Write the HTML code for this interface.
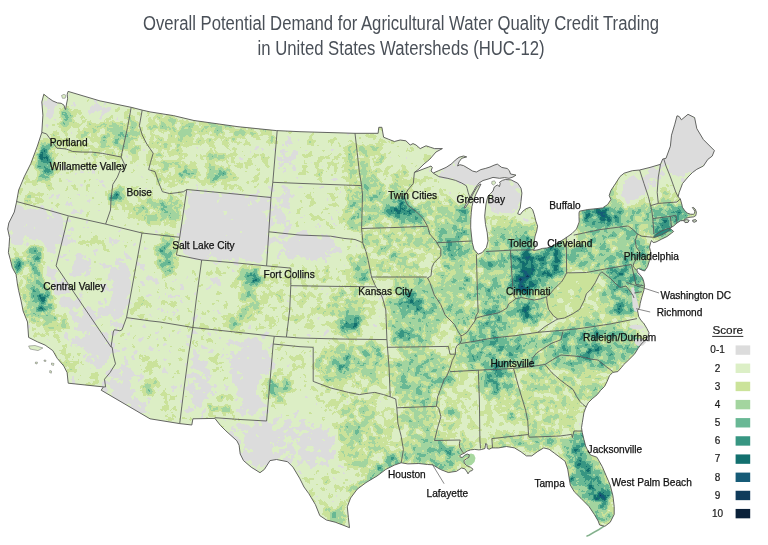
<!DOCTYPE html><html><head><meta charset="utf-8"><style>html,body{margin:0;padding:0;background:#fff;}body{width:768px;height:545px;overflow:hidden;position:relative;}svg{position:absolute;left:0;top:0;display:block;filter:blur(0.3px);}</style></head><body>
<svg width="768" height="545" viewBox="0 0 768 545">
<rect width="768" height="545" fill="#ffffff"/>
<g font-family="Liberation Sans, Arial, sans-serif" fill="#4a5058" font-size="19.5"><text x="143" y="29.7" textLength="516" lengthAdjust="spacingAndGlyphs">Overall Potential Demand for Agricultural Water Quality Credit Trading</text><text x="257.6" y="55.3" textLength="287" lengthAdjust="spacingAndGlyphs">in United States Watersheds (HUC-12)</text></g>
<defs><clipPath id="land"><path d="M43.8,94.2 L48.3,97.8 L52.9,101.0 L57.5,102.9 L61.2,103.3 L64.0,105.2 L65.0,108.5 L65.6,109.5 L66.5,104.0 L67.6,98.8 L67.2,94.2 L68.1,91.4 L100.0,100.9 L131.2,107.3 L142.2,110.1 L150.0,111.9 L173.4,115.6 L194.0,120.5 L238.0,126.7 L276.5,130.6 L300.0,131.7 L355.0,133.3 L378.1,133.3 L378.8,127.3 L381.9,127.3 L383.6,137.2 L388.7,139.3 L394.4,141.5 L400.2,140.0 L405.9,140.8 L410.2,145.0 L413.0,143.6 L416.0,145.0 L420.2,148.6 L426.0,145.8 L430.2,147.2 L434.5,148.6 L442.4,148.6 L436.0,152.0 L429.8,159.2 L424.0,164.0 L418.8,169.1 L414.4,172.4 L417.0,171.5 L422.0,169.5 L428.7,167.0 L431.0,166.0 L432.3,167.5 L431.0,171.0 L433.3,173.0 L438.8,170.6 L446.1,167.4 L451.6,163.8 L455.3,160.1 L459.0,157.3 L463.5,156.0 L466.7,156.9 L461.7,158.3 L459.0,161.9 L457.6,166.0 L459.9,164.7 L463.5,165.6 L468.1,168.3 L472.7,171.1 L476.4,172.0 L480.8,169.6 L485.2,168.5 L490.0,167.0 L494.0,165.2 L497.3,164.1 L501.7,167.4 L507.2,168.5 L509.4,170.7 L510.5,174.0 L516.0,175.1 L513.0,177.0 L509.0,178.3 L504.5,177.6 L499.6,178.3 L493.0,177.4 L488.0,179.1 L483.0,180.5 L479.0,183.0 L476.0,187.0 L472.5,193.0 L469.5,198.5 L466.5,203.5 L464.0,207.5 L465.0,208.0 L467.5,204.5 L470.5,199.0 L473.5,193.0 L476.5,188.0 L479.5,184.5 L481.0,184.0 L478.5,189.0 L476.0,194.0 L473.5,200.0 L472.0,206.4 L471.3,212.2 L470.8,219.5 L470.7,227.8 L471.5,236.0 L472.3,242.7 L474.0,249.3 L478.1,254.2 L482.2,252.6 L486.4,247.6 L488.0,241.0 L487.2,232.7 L485.5,224.5 L484.7,216.2 L485.3,210.0 L486.0,204.0 L487.9,196.2 L490.5,193.6 L493.0,191.0 L494.3,187.0 L497.3,185.0 L499.5,186.5 L500.2,183.5 L499.5,182.3 L502.5,180.3 L505.4,179.5 L511.1,179.9 L517.7,183.2 L521.0,188.2 L521.9,193.1 L521.0,201.4 L520.2,208.0 L518.6,211.3 L517.7,213.8 L520.2,214.6 L522.7,211.3 L526.0,208.8 L530.1,207.2 L532.6,209.6 L534.3,214.6 L535.9,221.2 L537.6,226.1 L536.7,231.1 L535.1,236.0 L534.3,241.0 L535.2,246.0 L534.7,247.5 L533.6,250.5 L538.0,249.8 L542.4,248.4 L547.0,248.0 L551.5,246.5 L555.0,244.5 L560.0,241.5 L566.0,237.8 L572.0,233.5 L576.5,229.0 L579.2,222.0 L579.0,216.5 L579.0,213.0 L579.5,211.2 L587.8,209.5 L596.0,208.7 L602.6,207.9 L607.6,204.6 L610.9,199.6 L609.2,195.5 L610.9,190.5 L615.8,183.1 L620.0,176.5 L624.1,173.2 L632.3,170.7 L639.6,170.0 L650.0,167.4 L660.5,164.3 L662.7,159.0 L666.0,158.3 L670.4,146.2 L671.5,135.2 L674.8,124.2 L677.0,115.8 L679.2,116.5 L681.4,119.8 L688.0,114.3 L694.6,117.6 L696.8,128.6 L703.4,139.6 L707.8,144.0 L714.4,150.6 L712.2,156.1 L707.8,159.4 L703.4,166.0 L696.8,169.3 L692.4,172.6 L688.0,177.0 L682.5,183.6 L679.2,192.4 L678.1,196.8 L680.3,198.8 L682.0,205.0 L682.4,207.2 L684.4,210.2 L687.4,213.2 L690.5,214.2 L693.3,214.3 L694.6,213.2 L694.8,211.2 L693.5,209.0 L692.3,207.6 L693.4,207.4 L695.3,209.2 L696.4,212.3 L695.8,215.6 L693.5,216.9 L690.0,217.2 L686.5,218.2 L683.5,220.5 L680.4,220.8 L677.0,223.0 L673.6,226.0 L669.8,228.2 L671.5,229.4 L673.6,231.5 L671.4,233.2 L667.0,236.5 L661.5,239.2 L656.0,242.0 L653.2,242.6 L651.5,240.5 L650.6,242.8 L649.5,247.2 L650.6,251.6 L649.5,260.4 L647.5,266.7 L644.6,271.0 L641.7,270.0 L638.5,268.5 L636.8,269.5 L637.5,272.5 L640.2,275.0 L642.5,278.0 L643.6,281.0 L644.6,285.8 L643.9,290.2 L641.7,297.5 L640.2,303.4 L639.5,307.8 L637.5,310.5 L638.7,316.6 L641.0,320.5 L643.6,323.0 L646.9,328.5 L649.1,332.9 L648.0,336.2 L644.7,340.6 L641.4,343.9 L638.1,348.3 L634.8,353.8 L628.2,360.4 L623.8,364.5 L621.5,367.5 L617.8,371.6 L612.8,372.4 L609.5,375.7 L607.1,381.5 L604.6,386.4 L600.5,390.5 L597.2,394.7 L592.2,398.8 L588.1,402.9 L585.6,407.9 L583.9,412.8 L583.1,417.8 L582.3,422.7 L581.5,427.7 L582.3,432.7 L583.9,439.3 L585.6,445.9 L588.0,451.0 L590.5,455.0 L596.9,457.2 L602.2,466.5 L606.2,475.8 L610.2,485.1 L612.9,495.7 L614.2,506.4 L614.2,514.4 L610.2,522.3 L604.9,526.3 L599.6,525.0 L598.2,521.0 L594.3,514.4 L588.9,506.4 L581.0,498.4 L574.3,491.8 L570.3,485.1 L569.0,477.1 L567.7,469.1 L565.0,461.2 L559.7,457.2 L554.4,453.2 L549.0,449.2 L543.7,447.9 L537.1,451.9 L531.8,455.9 L526.4,455.9 L521.1,451.9 L514.5,447.9 L506.5,446.5 L498.5,447.9 L491.9,447.9 L489.2,449.2 L487.3,448.5 L486.8,444.0 L485.6,443.5 L485.0,448.5 L481.2,449.6 L478.8,449.9 L474.7,449.4 L470.5,449.9 L467.2,451.1 L463.9,453.4 L460.6,454.8 L459.8,456.0 L460.6,457.3 L462.3,457.3 L464.8,455.2 L467.2,454.0 L469.3,454.8 L468.9,457.3 L466.4,458.9 L463.9,460.6 L464.3,463.0 L466.4,465.5 L470.5,467.2 L473.0,469.2 L472.2,470.5 L469.7,471.3 L468.0,473.8 L467.2,472.1 L464.8,468.8 L461.5,468.0 L456.5,471.3 L448.3,472.5 L440.5,469.5 L432.5,464.8 L427.6,464.5 L418.8,463.5 L407.8,463.9 L401.2,462.8 L394.6,465.0 L385.8,469.4 L377.0,476.0 L366.0,482.6 L357.2,489.2 L350.6,498.0 L347.3,506.8 L348.4,517.8 L349.5,527.7 L344.0,525.5 L335.2,522.2 L326.4,520.0 L319.8,515.6 L315.4,504.6 L308.8,493.6 L304.0,487.0 L299.6,478.2 L293.0,467.2 L287.5,461.7 L276.5,459.5 L270.0,460.6 L264.4,469.4 L260.0,472.7 L251.2,467.2 L243.5,460.6 L240.2,454.0 L239.1,445.2 L236.9,440.8 L225.9,430.9 L220.4,425.4 L214.9,418.4 L192.9,418.8 L191.8,425.0 L179.7,423.6 L150.0,418.8 L101.2,390.2 L103.4,386.9 L68.2,383.2 L67.1,372.6 L63.8,366.0 L57.2,358.3 L52.8,350.6 L45.1,345.1 L37.4,341.8 L28.6,337.4 L27.5,322.0 L23.1,311.0 L20.9,300.0 L18.6,290.4 L17.4,284.0 L16.7,278.8 L16.0,274.3 L14.1,271.0 L12.2,267.3 L10.3,259.6 L8.4,252.5 L9.0,246.7 L9.6,237.7 L7.7,229.0 L8.8,223.0 L14.3,212.0 L16.5,202.1 L18.7,190.0 L24.2,176.8 L30.8,163.6 L37.4,146.0 L41.8,132.4 L42.9,115.2 L41.8,102.0Z"/></clipPath></defs>
<g clip-path="url(#land)"><rect x="0" y="80" width="768" height="465" fill="#dcefc6"/>
<filter id="cf" x="0" y="0" width="768" height="545" filterUnits="userSpaceOnUse" color-interpolation-filters="sRGB"><feGaussianBlur in="SourceGraphic" stdDeviation="4" result="f"/><feTurbulence type="fractalNoise" baseFrequency="0.13" numOctaves="3" seed="7" result="t"/><feColorMatrix in="t" type="matrix" values="1 0 0 0 0  1 0 0 0 0  1 0 0 0 0  0 0 0 0 1" result="n"/><feComposite in="f" in2="n" operator="arithmetic" k1="0.85" k2="0.575" k3="0.18" k4="-0.09" result="s"/><feComponentTransfer in="s"><feFuncR type="discrete" tableValues="0.863 0.863 0.863 0.863 0.863 0.863 0.863 0.863 0.863 0.863 0.863 0.863 0.863 0.863 0.863 0.863 0.863 0.863 0.863 0.863 0.863 0.863 0.863 0.796 0.796 0.796 0.796 0.796 0.796 0.796 0.796 0.639 0.639 0.639 0.639 0.639 0.639 0.639 0.639 0.639 0.639 0.412 0.412 0.412 0.412 0.412 0.412 0.412 0.412 0.412 0.412 0.216 0.216 0.216 0.216 0.216 0.216 0.216 0.216 0.216 0.216 0.075 0.075 0.075 0.075 0.075 0.075 0.075 0.075 0.075 0.075 0.086 0.086 0.086 0.086 0.086 0.086 0.086 0.086 0.086 0.086 0.059 0.059 0.059 0.059 0.059 0.059 0.059 0.059 0.059 0.059 0.039 0.039 0.039 0.039 0.039 0.039 0.039 0.039 0.039"/><feFuncG type="discrete" tableValues="0.863 0.863 0.863 0.863 0.863 0.863 0.863 0.863 0.863 0.863 0.937 0.937 0.937 0.937 0.937 0.937 0.937 0.937 0.937 0.937 0.937 0.937 0.937 0.890 0.890 0.890 0.890 0.890 0.890 0.890 0.890 0.835 0.835 0.835 0.835 0.835 0.835 0.835 0.835 0.835 0.835 0.722 0.722 0.722 0.722 0.722 0.722 0.722 0.722 0.722 0.722 0.588 0.588 0.588 0.588 0.588 0.588 0.588 0.588 0.588 0.588 0.439 0.439 0.439 0.439 0.439 0.439 0.439 0.439 0.439 0.439 0.357 0.357 0.357 0.357 0.357 0.357 0.357 0.357 0.357 0.357 0.231 0.231 0.231 0.231 0.231 0.231 0.231 0.231 0.231 0.231 0.129 0.129 0.129 0.129 0.129 0.129 0.129 0.129 0.129"/><feFuncB type="discrete" tableValues="0.863 0.863 0.863 0.863 0.863 0.863 0.863 0.863 0.863 0.863 0.776 0.776 0.776 0.776 0.776 0.776 0.776 0.776 0.776 0.776 0.776 0.776 0.776 0.604 0.604 0.604 0.604 0.604 0.604 0.604 0.604 0.624 0.624 0.624 0.624 0.624 0.624 0.624 0.624 0.624 0.624 0.584 0.584 0.584 0.584 0.584 0.584 0.584 0.584 0.584 0.584 0.510 0.510 0.510 0.510 0.510 0.510 0.510 0.510 0.510 0.510 0.435 0.435 0.435 0.435 0.435 0.435 0.435 0.435 0.435 0.435 0.467 0.467 0.467 0.467 0.467 0.467 0.467 0.467 0.467 0.467 0.357 0.357 0.357 0.357 0.357 0.357 0.357 0.357 0.357 0.357 0.224 0.224 0.224 0.224 0.224 0.224 0.224 0.224 0.224"/><feFuncA type="linear" slope="0" intercept="1"/></feComponentTransfer></filter>
<g filter="url(#cf)">
<rect x="0" y="0" width="768" height="545" fill="#2b2b2b"/>
<ellipse cx="88.5" cy="128" rx="10.5" ry="9" fill="#4a4a4a"/>
<ellipse cx="84.5" cy="143.5" rx="19.5" ry="6.5" fill="#474747"/>
<ellipse cx="114.5" cy="136" rx="13.5" ry="17" fill="#575757"/>
<ellipse cx="121" cy="140.5" rx="4" ry="6.5" fill="#707070"/>
<ellipse cx="55" cy="127.5" rx="10" ry="6.5" fill="#383838"/>
<ellipse cx="53" cy="110.5" rx="8" ry="11.5" fill="#080808"/>
<ellipse cx="99" cy="108" rx="11" ry="6" fill="#0a0a0a"/>
<ellipse cx="74" cy="104" rx="4" ry="4" fill="#0a0a0a"/>
<ellipse cx="66" cy="117" rx="9" ry="10" fill="#666666"/>
<ellipse cx="65" cy="111" rx="4" ry="4" fill="#808080"/>
<ellipse cx="91" cy="152.5" rx="31" ry="5.5" fill="#3d3d3d"/>
<ellipse cx="29" cy="192.5" rx="8" ry="14.5" fill="#383838"/>
<ellipse cx="33.5" cy="199.5" rx="5.5" ry="5.5" fill="#5c5c5c"/>
<ellipse cx="54.5" cy="142.5" rx="5.5" ry="5.5" fill="#666666"/>
<ellipse cx="45" cy="162" rx="7" ry="20" fill="#8f8f8f"/>
<ellipse cx="43.5" cy="164" rx="4.5" ry="13" fill="#a8a8a8"/>
<ellipse cx="133" cy="135.5" rx="8" ry="27.5" fill="#4c4c4c"/>
<ellipse cx="162.5" cy="210" rx="37.5" ry="13" fill="#525252"/>
<ellipse cx="169" cy="209.5" rx="13" ry="10.5" fill="#5e5e5e"/>
<ellipse cx="116.5" cy="197" rx="5.5" ry="8.5" fill="#adadad"/>
<ellipse cx="173" cy="148.5" rx="27" ry="40.5" fill="#424242"/>
<ellipse cx="159" cy="124" rx="4" ry="4" fill="#737373"/>
<ellipse cx="187" cy="129" rx="4" ry="4" fill="#666666"/>
<ellipse cx="187" cy="173" rx="5" ry="4" fill="#737373"/>
<ellipse cx="156" cy="147" rx="4" ry="4" fill="#595959"/>
<ellipse cx="228" cy="127" rx="48" ry="12" fill="#474747"/>
<ellipse cx="228" cy="165" rx="48" ry="26" fill="#333333"/>
<ellipse cx="217.5" cy="155.5" rx="14.5" ry="6.5" fill="#474747"/>
<ellipse cx="219" cy="175" rx="13" ry="8" fill="#666666"/>
<ellipse cx="214" cy="175" rx="5" ry="4" fill="#808080"/>
<ellipse cx="188" cy="173.5" rx="8" ry="6.5" fill="#666666"/>
<ellipse cx="185" cy="172" rx="3" ry="3" fill="#8c8c8c"/>
<ellipse cx="185" cy="128" rx="4" ry="4" fill="#737373"/>
<ellipse cx="214" cy="128" rx="4" ry="4" fill="#737373"/>
<ellipse cx="271" cy="139" rx="3" ry="3" fill="#808080"/>
<polygon points="186.8,189.5 271,197.5 266.6,265.9 176.4,254.9 179.7,237.3" fill="#0b0b0b"/>
<ellipse cx="286.5" cy="159.5" rx="10.5" ry="20.5" fill="#171717"/>
<ellipse cx="322" cy="159.5" rx="25" ry="23.5" fill="#333333"/>
<ellipse cx="354.5" cy="162.5" rx="9.5" ry="23.5" fill="#4f4f4f"/>
<ellipse cx="282" cy="209.5" rx="10" ry="23.5" fill="#131313"/>
<ellipse cx="319.5" cy="209.5" rx="27.5" ry="23.5" fill="#303030"/>
<ellipse cx="354.5" cy="210.5" rx="9.5" ry="24.5" fill="#545454"/>
<ellipse cx="357" cy="222" rx="4" ry="5" fill="#6e6e6e"/>
<ellipse cx="305" cy="239" rx="37" ry="7" fill="#121212"/>
<ellipse cx="309" cy="250" rx="27" ry="10" fill="#080808"/>
<ellipse cx="310.5" cy="274.5" rx="41.5" ry="10.5" fill="#383838"/>
<ellipse cx="361" cy="270.5" rx="11" ry="14.5" fill="#666666"/>
<polygon points="5,203 40,209 68,217 66,245 58,262 42,250 25,248 8,240" fill="#080808"/>
<ellipse cx="26" cy="238" rx="5" ry="8" fill="#1a1a1a"/>
<ellipse cx="35" cy="256.5" rx="7" ry="13.5" fill="#858585"/>
<ellipse cx="34" cy="255.5" rx="3" ry="6.5" fill="#999999"/>
<ellipse cx="17" cy="265" rx="5" ry="11" fill="#999999"/>
<ellipse cx="41.5" cy="295.5" rx="15.5" ry="28.5" fill="#707070"/>
<ellipse cx="44" cy="298" rx="8" ry="16" fill="#858585"/>
<ellipse cx="27.5" cy="299.5" rx="6.5" ry="19.5" fill="#4c4c4c"/>
<ellipse cx="70" cy="305" rx="11" ry="48" fill="#121212" transform="rotate(-35 70 305)"/>
<ellipse cx="60" cy="254" rx="8" ry="13" fill="#1a1a1a"/>
<ellipse cx="87" cy="344" rx="26" ry="34" fill="#121212"/>
<ellipse cx="57" cy="324.5" rx="17" ry="14.5" fill="#3d3d3d"/>
<ellipse cx="48" cy="320.5" rx="8" ry="10.5" fill="#545454"/>
<ellipse cx="76" cy="362" rx="12" ry="12" fill="#383838"/>
<ellipse cx="65" cy="358" rx="9" ry="14" fill="#424242"/>
<ellipse cx="91.5" cy="378.5" rx="4.5" ry="6.5" fill="#666666"/>
<ellipse cx="71.5" cy="241" rx="14.5" ry="26" fill="#242424"/>
<ellipse cx="110.5" cy="265.5" rx="24.5" ry="35.5" fill="#292929"/>
<ellipse cx="79.5" cy="265.5" rx="9.5" ry="11.5" fill="#0a0a0a"/>
<ellipse cx="119.5" cy="288.5" rx="11.5" ry="29.5" fill="#0a0a0a"/>
<ellipse cx="102.5" cy="331" rx="17.5" ry="26" fill="#0d0d0d"/>
<ellipse cx="65" cy="232" rx="7" ry="10" fill="#0f0f0f"/>
<ellipse cx="92.5" cy="242.5" rx="11.5" ry="6.5" fill="#404040"/>
<ellipse cx="104" cy="324.5" rx="5" ry="7.5" fill="#474747"/>
<ellipse cx="138" cy="305" rx="8" ry="12" fill="#474747"/>
<ellipse cx="150.5" cy="272.5" rx="7.5" ry="27.5" fill="#212121"/>
<ellipse cx="166.5" cy="255.5" rx="10.5" ry="19.5" fill="#666666"/>
<ellipse cx="166.5" cy="254" rx="5.5" ry="13" fill="#7a7a7a"/>
<ellipse cx="217" cy="279.5" rx="21" ry="18.5" fill="#333333"/>
<ellipse cx="214" cy="282" rx="10" ry="9" fill="#1a1a1a"/>
<ellipse cx="274" cy="300" rx="16" ry="34" fill="#383838"/>
<ellipse cx="235" cy="325" rx="39" ry="9" fill="#333333"/>
<ellipse cx="249" cy="304" rx="9" ry="14" fill="#595959"/>
<ellipse cx="235" cy="321" rx="8" ry="8" fill="#616161"/>
<ellipse cx="250.5" cy="278" rx="10.5" ry="12" fill="#757575"/>
<ellipse cx="251.5" cy="277" rx="6.5" ry="8" fill="#8c8c8c"/>
<ellipse cx="308" cy="310.5" rx="18" ry="23.5" fill="#383838"/>
<ellipse cx="348" cy="310.5" rx="22" ry="23.5" fill="#4c4c4c"/>
<ellipse cx="349.5" cy="323.5" rx="10.5" ry="10.5" fill="#808080"/>
<ellipse cx="352" cy="326" rx="5" ry="5" fill="#999999"/>
<ellipse cx="295" cy="357" rx="21" ry="13" fill="#333333"/>
<ellipse cx="350.5" cy="367.5" rx="36.5" ry="27.5" fill="#4c4c4c"/>
<ellipse cx="342" cy="365" rx="8" ry="9" fill="#858585"/>
<ellipse cx="373.5" cy="352" rx="7.5" ry="9" fill="#737373"/>
<ellipse cx="230" cy="354.5" rx="39" ry="15.5" fill="#1a1a1a"/>
<ellipse cx="219" cy="363" rx="4" ry="4" fill="#595959"/>
<ellipse cx="128.5" cy="345" rx="15.5" ry="17" fill="#262626"/>
<ellipse cx="123" cy="335" rx="8" ry="4" fill="#424242"/>
<ellipse cx="128.5" cy="390.5" rx="23.5" ry="28.5" fill="#121212"/>
<ellipse cx="145.5" cy="365.5" rx="11.5" ry="6.5" fill="#474747"/>
<ellipse cx="148" cy="388" rx="9" ry="8" fill="#666666"/>
<ellipse cx="171.5" cy="407.5" rx="9.5" ry="9.5" fill="#383838"/>
<ellipse cx="167.6" cy="406" rx="4" ry="4" fill="#595959"/>
<ellipse cx="201.5" cy="385.5" rx="15.5" ry="28.5" fill="#121212"/>
<ellipse cx="217" cy="364.5" rx="5" ry="10.5" fill="#595959"/>
<ellipse cx="226.5" cy="403.5" rx="6.5" ry="10.5" fill="#545454"/>
<ellipse cx="212" cy="409" rx="5" ry="8" fill="#616161"/>
<ellipse cx="209" cy="342.5" rx="13" ry="11.5" fill="#2e2e2e"/>
<ellipse cx="252.5" cy="376.5" rx="19.5" ry="41.5" fill="#0f0f0f"/>
<ellipse cx="258.5" cy="375" rx="13.5" ry="35" fill="#0a0a0a"/>
<ellipse cx="293" cy="364" rx="21" ry="18" fill="#333333"/>
<ellipse cx="276" cy="388.5" rx="17" ry="11.5" fill="#616161"/>
<ellipse cx="278.5" cy="444" rx="58.5" ry="26" fill="#171717"/>
<ellipse cx="259" cy="448.5" rx="13" ry="19.5" fill="#0a0a0a"/>
<ellipse cx="321.5" cy="444.5" rx="15.5" ry="15.5" fill="#0d0d0d"/>
<ellipse cx="350.5" cy="399" rx="36.5" ry="17" fill="#383838"/>
<ellipse cx="359" cy="435" rx="22" ry="35" fill="#4c4c4c"/>
<ellipse cx="351.5" cy="434" rx="6.5" ry="5" fill="#666666"/>
<ellipse cx="391.5" cy="439" rx="10.5" ry="31" fill="#424242"/>
<ellipse cx="397.5" cy="443" rx="5.5" ry="11" fill="#333333"/>
<ellipse cx="358" cy="487" rx="9" ry="5" fill="#666666" transform="rotate(-35 358 487)"/>
<ellipse cx="372" cy="476" rx="8" ry="5" fill="#6b6b6b" transform="rotate(-30 372 476)"/>
<ellipse cx="380" cy="470" rx="7" ry="6" fill="#808080"/>
<ellipse cx="393.5" cy="460" rx="4.5" ry="5" fill="#b8b8b8"/>
<ellipse cx="325" cy="499" rx="25" ry="29" fill="#333333"/>
<ellipse cx="335.5" cy="515.5" rx="10.5" ry="8.5" fill="#5c5c5c"/>
<ellipse cx="342" cy="518" rx="3" ry="2" fill="#b8b8b8"/>
<ellipse cx="373" cy="154" rx="13" ry="18" fill="#454545"/>
<ellipse cx="412" cy="154" rx="26" ry="18" fill="#2e2e2e"/>
<ellipse cx="372" cy="200.5" rx="14" ry="28.5" fill="#575757"/>
<ellipse cx="399" cy="185" rx="13" ry="13" fill="#4c4c4c"/>
<ellipse cx="399" cy="209" rx="13" ry="13" fill="#858585"/>
<ellipse cx="400.5" cy="209.5" rx="6.5" ry="6.5" fill="#9e9e9e"/>
<ellipse cx="417.5" cy="217.5" rx="10.5" ry="9.5" fill="#808080"/>
<ellipse cx="440.5" cy="182.5" rx="28.5" ry="15.5" fill="#333333"/>
<ellipse cx="440.5" cy="211" rx="18.5" ry="13" fill="#525252"/>
<ellipse cx="464" cy="221.5" rx="5" ry="20.5" fill="#808080"/>
<ellipse cx="464" cy="211" rx="3" ry="5" fill="#9e9e9e"/>
<ellipse cx="450" cy="233" rx="22" ry="9" fill="#6b6b6b"/>
<ellipse cx="477.5" cy="172.5" rx="39.5" ry="13.5" fill="#050505"/>
<ellipse cx="504.5" cy="197" rx="17.5" ry="17" fill="#080808"/>
<ellipse cx="503.5" cy="219" rx="18.5" ry="5" fill="#404040"/>
<ellipse cx="511" cy="237" rx="26" ry="13" fill="#5e5e5e"/>
<ellipse cx="526.5" cy="241" rx="10.5" ry="9" fill="#757575"/>
<ellipse cx="398" cy="243.5" rx="38" ry="16.5" fill="#4a4a4a"/>
<ellipse cx="395" cy="268.5" rx="35" ry="8.5" fill="#4c4c4c"/>
<ellipse cx="394" cy="256" rx="5" ry="5" fill="#666666"/>
<ellipse cx="416" cy="312" rx="30" ry="35" fill="#5c5c5c"/>
<ellipse cx="412" cy="302.5" rx="13" ry="10.5" fill="#808080"/>
<ellipse cx="401.5" cy="338" rx="10.5" ry="9" fill="#808080"/>
<ellipse cx="455.5" cy="250" rx="19.5" ry="8" fill="#787878"/>
<ellipse cx="455" cy="286" rx="20" ry="30" fill="#575757"/>
<ellipse cx="464" cy="282" rx="4" ry="8" fill="#6b6b6b"/>
<ellipse cx="463" cy="321" rx="12" ry="13" fill="#5e5e5e"/>
<ellipse cx="494" cy="260" rx="20" ry="9" fill="#707070"/>
<ellipse cx="494" cy="292.5" rx="20" ry="23.5" fill="#616161"/>
<ellipse cx="549.5" cy="282" rx="12.5" ry="16" fill="#737373"/>
<ellipse cx="549.5" cy="256" rx="12.5" ry="11" fill="#999999"/>
<ellipse cx="525" cy="273" rx="13" ry="25" fill="#a3a3a3"/>
<ellipse cx="524" cy="282" rx="8" ry="13" fill="#b2b2b2"/>
<ellipse cx="494" cy="321" rx="20" ry="13" fill="#6e6e6e"/>
<ellipse cx="529.5" cy="312.5" rx="16.5" ry="12.5" fill="#808080"/>
<ellipse cx="522.5" cy="311.5" rx="6.5" ry="6.5" fill="#949494"/>
<ellipse cx="500" cy="342" rx="48" ry="8" fill="#707070"/>
<ellipse cx="491.5" cy="340.5" rx="14.5" ry="6.5" fill="#7a7a7a"/>
<ellipse cx="470" cy="360" rx="15" ry="10" fill="#707070"/>
<ellipse cx="498.5" cy="359" rx="46.5" ry="9" fill="#696969"/>
<ellipse cx="420.5" cy="378" rx="31.5" ry="30" fill="#5c5c5c"/>
<ellipse cx="418" cy="418.5" rx="18" ry="9.5" fill="#595959"/>
<ellipse cx="436.5" cy="451.5" rx="36.5" ry="23.5" fill="#595959"/>
<ellipse cx="427" cy="455.5" rx="3" ry="3.5" fill="#999999"/>
<ellipse cx="449" cy="453.5" rx="6" ry="4.5" fill="#858585"/>
<ellipse cx="457" cy="408" rx="21" ry="38" fill="#383838"/>
<ellipse cx="452" cy="415" rx="8" ry="8" fill="#616161"/>
<ellipse cx="449.5" cy="380.5" rx="10.5" ry="10.5" fill="#595959"/>
<ellipse cx="496.5" cy="382" rx="18.5" ry="17" fill="#6b6b6b"/>
<ellipse cx="496" cy="374.5" rx="8" ry="6.5" fill="#999999"/>
<ellipse cx="501.5" cy="418.5" rx="23.5" ry="19.5" fill="#383838"/>
<ellipse cx="512" cy="412" rx="8" ry="8" fill="#595959"/>
<ellipse cx="548.5" cy="399" rx="33.5" ry="39" fill="#474747"/>
<ellipse cx="535.5" cy="373" rx="10.5" ry="13" fill="#545454"/>
<ellipse cx="578.5" cy="382.5" rx="33.5" ry="22.5" fill="#474747"/>
<ellipse cx="600" cy="394" rx="10" ry="9" fill="#595959"/>
<ellipse cx="525" cy="443" rx="47" ry="7" fill="#575757"/>
<ellipse cx="536.5" cy="442" rx="6.5" ry="4" fill="#6b6b6b"/>
<ellipse cx="588" cy="478" rx="14" ry="38" fill="#808080" transform="rotate(-28 588 478)"/>
<ellipse cx="581.5" cy="442" rx="8.5" ry="9" fill="#999999"/>
<ellipse cx="569.5" cy="482.5" rx="3.5" ry="5.5" fill="#999999"/>
<ellipse cx="602" cy="494" rx="10" ry="12" fill="#999999"/>
<ellipse cx="596.5" cy="498" rx="4.5" ry="6" fill="#adadad"/>
<ellipse cx="602.5" cy="515" rx="12.5" ry="9" fill="#616161"/>
<ellipse cx="584.5" cy="500" rx="7.5" ry="8" fill="#595959"/>
<ellipse cx="592" cy="345.5" rx="52" ry="24.5" fill="#666666"/>
<ellipse cx="592" cy="349.5" rx="13" ry="10.5" fill="#808080"/>
<ellipse cx="583" cy="314.5" rx="30" ry="6.5" fill="#4c4c4c"/>
<ellipse cx="572.5" cy="297.5" rx="27.5" ry="23.5" fill="#404040"/>
<ellipse cx="596" cy="297.5" rx="17" ry="15.5" fill="#424242"/>
<ellipse cx="624.5" cy="309" rx="14.5" ry="9" fill="#7a7a7a"/>
<ellipse cx="620.5" cy="308" rx="7.5" ry="5" fill="#8c8c8c"/>
<ellipse cx="553" cy="260" rx="13" ry="22" fill="#8c8c8c"/>
<ellipse cx="592" cy="255" rx="26" ry="17" fill="#616161"/>
<ellipse cx="631" cy="251" rx="13" ry="13" fill="#6b6b6b"/>
<ellipse cx="619" cy="274" rx="14" ry="12" fill="#858585"/>
<ellipse cx="638" cy="285" rx="7" ry="15" fill="#7a7a7a"/>
<ellipse cx="618" cy="291.5" rx="13" ry="14.5" fill="#6b6b6b"/>
<ellipse cx="645.5" cy="258.5" rx="6.5" ry="18.5" fill="#6b6b6b"/>
<ellipse cx="617.5" cy="220" rx="38.5" ry="20" fill="#616161"/>
<ellipse cx="598.5" cy="216" rx="19.5" ry="9" fill="#949494"/>
<ellipse cx="605" cy="217" rx="8" ry="5" fill="#a6a6a6"/>
<ellipse cx="636.5" cy="214.5" rx="18.5" ry="10.5" fill="#5c5c5c"/>
<ellipse cx="611.5" cy="232.5" rx="32.5" ry="7.5" fill="#666666"/>
<ellipse cx="626" cy="194" rx="24" ry="16" fill="#575757"/>
<ellipse cx="631" cy="191" rx="13" ry="13" fill="#050505"/>
<ellipse cx="649" cy="181" rx="8" ry="14" fill="#0f0f0f"/>
<ellipse cx="649" cy="201" rx="8" ry="6" fill="#404040"/>
<ellipse cx="660" cy="172" rx="6" ry="14" fill="#080808"/>
<ellipse cx="666.5" cy="196.5" rx="9.5" ry="10.5" fill="#4c4c4c"/>
<ellipse cx="673" cy="174" rx="13" ry="12" fill="#2e2e2e"/>
<polygon points="664,150 668,135 672,120 676,110 690,108 700,120 708,138 720,150 714,160 704,168 692,174 684,178 676,176 668,168" fill="#050505"/>
<ellipse cx="669" cy="213" rx="17" ry="9" fill="#6b6b6b"/>
<ellipse cx="682.5" cy="213" rx="7.5" ry="9" fill="#808080"/>
<ellipse cx="666.5" cy="222" rx="14.5" ry="8" fill="#808080"/>
<ellipse cx="664.5" cy="232.5" rx="10.5" ry="5.5" fill="#9e9e9e"/>
</g>
<filter id="cf2" x="0" y="0" width="768" height="545" filterUnits="userSpaceOnUse" color-interpolation-filters="sRGB"><feGaussianBlur in="SourceGraphic" stdDeviation="2" result="f"/><feTurbulence type="fractalNoise" baseFrequency="0.12" numOctaves="3" seed="11" result="t"/><feColorMatrix in="t" type="matrix" values="1 0 0 0 0  1 0 0 0 0  1 0 0 0 0  0 0 0 0 1" result="n"/><feComposite in="f" in2="n" operator="arithmetic" k1="0.2" k2="0.9" k3="0.14" k4="-0.07" result="s"/><feComponentTransfer in="s"><feFuncR type="discrete" tableValues="0.863 0.863 0.863 0.863 0.863 0.863 0.863 0.863 0.863 0.863 0.863 0.863 0.863 0.863 0.863 0.863 0.863 0.863 0.863 0.863 0.863 0.863 0.863 0.796 0.796 0.796 0.796 0.796 0.796 0.796 0.796 0.639 0.639 0.639 0.639 0.639 0.639 0.639 0.639 0.639 0.639 0.412 0.412 0.412 0.412 0.412 0.412 0.412 0.412 0.412 0.412 0.216 0.216 0.216 0.216 0.216 0.216 0.216 0.216 0.216 0.216 0.075 0.075 0.075 0.075 0.075 0.075 0.075 0.075 0.075 0.075 0.086 0.086 0.086 0.086 0.086 0.086 0.086 0.086 0.086 0.086 0.059 0.059 0.059 0.059 0.059 0.059 0.059 0.059 0.059 0.059 0.039 0.039 0.039 0.039 0.039 0.039 0.039 0.039 0.039"/><feFuncG type="discrete" tableValues="0.863 0.863 0.863 0.863 0.863 0.863 0.863 0.863 0.863 0.863 0.937 0.937 0.937 0.937 0.937 0.937 0.937 0.937 0.937 0.937 0.937 0.937 0.937 0.890 0.890 0.890 0.890 0.890 0.890 0.890 0.890 0.835 0.835 0.835 0.835 0.835 0.835 0.835 0.835 0.835 0.835 0.722 0.722 0.722 0.722 0.722 0.722 0.722 0.722 0.722 0.722 0.588 0.588 0.588 0.588 0.588 0.588 0.588 0.588 0.588 0.588 0.439 0.439 0.439 0.439 0.439 0.439 0.439 0.439 0.439 0.439 0.357 0.357 0.357 0.357 0.357 0.357 0.357 0.357 0.357 0.357 0.231 0.231 0.231 0.231 0.231 0.231 0.231 0.231 0.231 0.231 0.129 0.129 0.129 0.129 0.129 0.129 0.129 0.129 0.129"/><feFuncB type="discrete" tableValues="0.863 0.863 0.863 0.863 0.863 0.863 0.863 0.863 0.863 0.863 0.776 0.776 0.776 0.776 0.776 0.776 0.776 0.776 0.776 0.776 0.776 0.776 0.776 0.604 0.604 0.604 0.604 0.604 0.604 0.604 0.604 0.624 0.624 0.624 0.624 0.624 0.624 0.624 0.624 0.624 0.624 0.584 0.584 0.584 0.584 0.584 0.584 0.584 0.584 0.584 0.584 0.510 0.510 0.510 0.510 0.510 0.510 0.510 0.510 0.510 0.510 0.435 0.435 0.435 0.435 0.435 0.435 0.435 0.435 0.435 0.435 0.467 0.467 0.467 0.467 0.467 0.467 0.467 0.467 0.467 0.467 0.357 0.357 0.357 0.357 0.357 0.357 0.357 0.357 0.357 0.357 0.224 0.224 0.224 0.224 0.224 0.224 0.224 0.224 0.224"/><feFuncA type="linear" slope="0" intercept="1"/></feComponentTransfer></filter>
<clipPath id="wv"><polygon points="546.5,296.8 550.1,294 553.4,289.8 558.6,284.7 561.5,282 564.4,277.3 566.6,272.9 586.4,272.9 595,276 601.8,271.8 599.6,274 595.2,282.8 590.8,289.4 586.4,293.8 584.2,300.4 579.8,309.2 573.2,313.6 564.4,318 557.8,319.1 553.4,315.8 548.5,309.2 547.2,303"/></clipPath>
<g clip-path="url(#wv)"><g filter="url(#cf2)">
<rect x="530" y="250" width="90" height="80" fill="#454545"/>
<ellipse cx="560" cy="300" rx="4" ry="3" fill="#2e2e2e"/>
<ellipse cx="572" cy="292" rx="3" ry="3" fill="#303030"/>
<ellipse cx="566" cy="308" rx="4" ry="3" fill="#333333"/>
<ellipse cx="553" cy="297" rx="2" ry="2" fill="#595959"/>
<ellipse cx="580" cy="285" rx="3" ry="3" fill="#383838"/>
</g></g>
</g>
<path d="M467.0,455.0 L471.0,453.5 L474.0,454.5 L475.5,458.0 L474.5,462.0 L471.5,465.0 L467.5,466.0 L465.0,463.5 L464.5,461.0 L467.5,459.0 L469.0,456.5Z" fill="#a8d8a0"/>
<path d="M653.8,236.5 L656.0,234.3 L661.5,231.0 L667.0,228.8 L669.8,228.5 L669.8,229.9 L667.0,232.0 L661.5,234.8 L656.0,237.0 L653.5,237.6Z" fill="#2c877d"/>
<polyline points="603.5,526.5 599.0,529.5 594.0,532.3 589.0,535.2 587.0,536.0" fill="none" stroke="#8fc79a" stroke-width="1.6" stroke-linecap="round"/>
<polyline points="603.5,526.5 599.0,529.5 594.0,532.3 589.0,535.2 587.0,536.0" fill="none" stroke="#777" stroke-width="0.4" stroke-linecap="round"/>
<path d="M631.2,288.0 L633.5,287.0 L635.0,292.0 L636.5,298.0 L637.8,303.0 L639.0,308.5 L638.3,311.5 L636.5,312.0 L634.0,310.5 L632.5,305.0 L632.0,298.0 L631.6,293.0Z" fill="#dcdcdc"/>
<path d="M636.5,270.0 L639.0,271.5 L641.5,275.5 L640.0,277.0 L637.5,274.0Z" fill="#dcdcdc"/>
<path d="M630.0,325.5 L636.0,324.5 L642.0,325.5 L644.5,327.5 L640.0,329.5 L633.0,329.0 L629.0,327.5Z" fill="#dcdcdc"/>
<path d="M634.0,340.0 L640.0,338.5 L645.0,339.5 L646.5,342.0 L643.0,345.5 L638.0,346.0 L635.0,343.5Z" fill="#dcdcdc"/>
<path d="M683.6,220.6 L686.5,219.6 L689.2,220.3 L688.0,222.4 L685.0,222.6Z" fill="#c9d9c0"/>
<path d="M692.6,220.2 L695.6,219.6 L696.8,221.0 L694.3,222.3 L692.8,221.6Z" fill="#c9d9c0"/>
<path d="M61.5,95.5 L64.0,94.3 L66.0,95.5 L65.2,98.2 L62.5,98.3Z" fill="#dcefc6" stroke="#6b6b6b" stroke-width="0.5"/>
<path d="M491.8,181.5 L494.5,180.8 L495.8,183.0 L493.5,185.0 L491.8,184.0Z" fill="#dcefc6" stroke="#6b6b6b" stroke-width="0.5"/>
<path d="M28.6,346.0 L35.0,345.5 L42.9,348.0 L38.0,350.6 L30.0,349.0Z" fill="#dcefc6" stroke="#6b6b6b" stroke-width="0.5"/>
<path d="M35.5,362.0 L37.5,362.2 L37.0,364.0 L35.3,363.5Z" fill="#dcefc6" stroke="#6b6b6b" stroke-width="0.5"/>
<path d="M44.0,360.0 L46.0,360.2 L45.8,361.5 L44.0,361.2Z" fill="#dcefc6" stroke="#6b6b6b" stroke-width="0.5"/>
<path d="M51.5,363.0 L54.0,363.5 L53.5,365.5 L51.5,364.8Z" fill="#dcefc6" stroke="#6b6b6b" stroke-width="0.5"/>
<path d="M49.8,370.5 L51.5,371.0 L51.3,373.2 L49.6,372.5Z" fill="#dcefc6" stroke="#6b6b6b" stroke-width="0.5"/>
<g fill="none" stroke="#5a5a5a" stroke-width="0.9" stroke-linejoin="round">
<polyline points="41.8,132.4 46.5,133.9 53.0,143.0 56.9,148.2 66.0,148.9 72.6,151.5 83.0,152.1 92.0,152.1 102.5,153.4 113.0,155.4 121.1,157.0"/>
<polyline points="131.2,107.3 127.5,127.5 123.9,144.0 121.1,157.0"/>
<polyline points="121.1,157.0 124.3,163.9 123.3,169.0 120.2,170.0 117.4,177.1 112.8,184.4 111.9,191.7 111.0,200.0 110.5,210.0 105.6,224.1"/>
<polyline points="16.5,201.5 40.0,207.8 68.2,215.8 105.6,224.1 142.0,233.0 160.0,235.1 179.7,237.3"/>
<polyline points="68.2,216.4 56.1,265.9 85.8,310.0 111.0,347.0"/>
<polyline points="111.0,347.0 113.3,332.0 114.4,329.7 120.0,330.8 122.1,329.7 126.5,317.6 142.0,233.0"/>
<polyline points="111.0,347.0 112.2,347.3 113.3,355.0 115.5,363.8 110.0,372.6 104.5,379.2 105.6,386.9 103.4,386.9"/>
<polyline points="142.2,110.1 139.4,125.7 142.2,134.9 146.8,144.0 153.2,153.2 150.5,162.4 148.6,169.7 155.0,171.6 158.7,182.6 162.4,191.7 169.7,193.6 177.1,192.7 183.5,191.7 186.8,189.5"/>
<polyline points="186.8,189.5 179.7,237.3 176.4,254.9"/>
<polyline points="186.8,189.5 230.0,193.5 271.0,197.5"/>
<polyline points="277.2,130.6 272.8,182.3 271.0,197.5"/>
<polyline points="271.0,197.5 268.8,231.8 266.6,265.9"/>
<polyline points="272.8,182.3 300.0,183.4 330.0,184.5 361.6,185.6"/>
<polyline points="268.8,231.8 300.0,235.1 330.8,236.2 344.0,238.4 355.0,239.5 360.5,241.7 362.7,242.8"/>
<polyline points="176.4,254.9 201.7,260.0 235.0,262.8 266.6,265.9 290.8,268.1"/>
<polyline points="201.7,260.0 196.2,300.0 192.9,327.5"/>
<polyline points="126.5,317.6 150.0,320.9 160.0,322.0 192.9,327.5 235.0,332.0 274.3,336.3 286.4,337.0 300.0,338.0 340.0,339.0 386.9,339.6"/>
<polyline points="290.8,268.1 290.8,285.7 289.7,310.0 286.4,337.0"/>
<polyline points="290.8,285.7 330.0,286.3 375.9,286.8"/>
<polyline points="192.9,327.5 188.5,355.0 184.1,388.0 179.7,423.6"/>
<polyline points="274.3,336.3 273.2,344.0 266.6,421.0 240.0,419.5 214.9,417.7"/>
<polyline points="273.2,344.0 300.0,346.7 313.2,347.3 313.2,381.4"/>
<polyline points="313.2,381.4 322.0,384.7 330.8,388.0 339.6,390.2 348.4,392.4 359.4,394.6 366.0,393.5 374.8,392.4 383.6,394.6 390.2,396.8 395.7,399.0"/>
<polyline points="395.7,399.0 396.8,407.8 397.9,423.2 401.2,436.4 403.4,449.6 401.2,462.8"/>
<polyline points="355.0,133.3 357.2,152.6 359.4,172.4 361.6,185.6 362.5,195.0 361.6,228.5"/>
<polyline points="361.6,228.5 395.0,227.5 427.6,226.3"/>
<polyline points="361.6,228.5 362.7,240.6 362.7,242.8"/>
<polyline points="362.7,242.8 366.0,251.6 368.2,260.4 370.4,271.4 371.5,277.0 374.8,284.6 375.9,286.8 379.2,291.2 382.5,297.8 385.8,310.0 386.9,339.6"/>
<polyline points="371.5,277.0 426.5,277.0 427.6,278.0"/>
<polyline points="414.4,172.4 413.3,183.4 407.8,190.0 404.5,196.0 406.0,202.0 407.8,205.4 416.6,212.0 423.2,218.6 427.6,226.3"/>
<polyline points="427.6,226.3 429.8,234.0 436.4,241.7 440.8,249.4 440.8,256.0 434.2,262.6 432.0,267.0 431.0,275.8 427.6,278.0 429.8,282.4 434.3,295.0 440.6,304.3 445.2,315.2 454.6,324.6 457.7,330.8 460.8,335.5"/>
<polyline points="460.8,335.5 461.5,340.0 460.0,343.5 457.0,345.5 455.5,349.0 455.4,354.2 452.3,360.4 450.0,368.2 446.8,376.0 444.2,379.4 440.9,388.2 437.6,397.0 436.4,406.3 438.7,408.0 440.9,416.8 437.6,427.8 434.5,440.5"/>
<polyline points="434.5,440.5 460.2,440.0 459.4,443.3 459.8,447.4 462.3,451.5 463.9,453.6"/>
<polyline points="388.0,347.3 448.4,346.4 450.0,354.2 455.4,354.2"/>
<polyline points="386.9,339.6 389.1,368.2 390.2,396.8"/>
<polyline points="396.8,407.8 436.4,406.3"/>
<polyline points="460.5,343.5 476.1,341.0 494.0,337.8 516.0,335.6 538.0,332.3 560.0,330.5 580.0,328.5 610.0,324.0 637.0,318.6"/>
<polyline points="449.7,371.7 478.3,370.2 513.5,368.4 531.0,366.5 545.0,364.5"/>
<polyline points="563.0,331.5 560.8,339.8 552.0,343.1 543.2,348.6 536.6,353.0 532.2,358.5 531.0,366.5"/>
<polyline points="545.0,364.5 556.4,357.4 561.0,355.0 580.0,356.5 592.0,359.3 598.0,360.0 606.2,366.6 612.8,371.6"/>
<polyline points="545.0,364.5 552.0,372.8 560.0,379.8 566.6,384.8 573.2,389.7 576.5,396.3 579.8,401.3 583.1,404.6 586.4,407.1"/>
<polyline points="513.5,368.4 519.0,388.2 525.6,410.2 527.8,421.2 528.5,434.5"/>
<polyline points="478.3,370.2 479.4,400.0 479.9,440.0 480.5,448.5"/>
<polyline points="492.5,448.0 491.9,438.6 528.5,434.5 529.1,437.2 560.0,436.0 566.6,435.1 571.6,434.3 572.4,437.6 574.0,431.0 582.0,431.0"/>
<polyline points="538.0,332.3 544.6,326.8 555.6,320.2 557.8,319.1"/>
<polyline points="546.5,296.8 547.2,303.0 548.5,309.2 553.4,315.8 557.8,319.1"/>
<polyline points="557.8,319.1 564.4,318.0 573.2,313.6 579.8,309.2 584.2,300.4 586.4,293.8 590.8,289.4 595.2,282.8 599.6,274.0 601.8,271.8"/>
<polyline points="460.8,335.5 462.4,335.5 467.0,332.4 470.2,327.7 474.2,322.0 476.4,318.0 480.3,316.8 485.4,315.5 491.8,314.2 498.2,312.9 503.4,310.3 507.2,307.8 508.5,304.0 512.4,301.3 515.6,298.8 521.3,297.5 527.8,298.8 534.2,300.0 540.6,298.8 544.5,297.5 546.5,296.8"/>
<polyline points="546.5,296.8 550.1,294.0 553.4,289.8 558.6,284.7 561.5,282.0 564.4,277.3 566.6,272.9 566.3,236.8"/>
<polyline points="510.5,250.2 511.8,274.0 513.5,295.0 515.6,298.8"/>
<polyline points="476.4,254.2 477.5,296.0 478.2,312.0 476.0,316.0 475.0,319.5"/>
<polyline points="486.0,251.5 510.5,250.2 533.6,249.8"/>
<polyline points="433.3,173.2 438.8,176.6 447.9,178.4 455.3,180.3 461.7,183.0 466.3,185.8 467.2,188.5 468.1,192.2 469.7,197.0"/>
<polyline points="436.4,242.8 455.0,241.8 471.5,241.0"/>
<polyline points="573.7,235.1 600.0,229.6 627.4,226.0 628.6,226.3 633.0,229.6 637.4,234.0 641.8,236.2 652.8,237.3"/>
<polyline points="637.4,234.0 635.2,240.6 636.3,247.2 639.6,251.6 638.5,256.0 634.1,262.6 633.0,266.0 636.3,270.3"/>
<polyline points="566.6,272.9 586.4,272.5 605.0,269.0 631.4,264.5"/>
<polyline points="631.4,264.5 634.3,277.0 635.8,284.3 643.8,285.8"/>
<polyline points="601.8,271.8 611.0,279.0 616.0,284.0 620.0,287.5 626.0,286.0 630.0,291.0 632.9,295.3 634.0,298.0"/>
<polyline points="634.3,293.0 641.7,291.7"/>
<polyline points="639.6,170.0 644.0,183.6 648.4,196.8 650.6,205.6 651.7,210.0 652.8,218.6 653.9,234.0"/>
<polyline points="660.5,164.3 658.3,177.0 657.2,192.4 658.3,203.4"/>
<polyline points="663.8,159.0 666.0,166.0 670.4,177.0 675.9,192.4 678.1,196.8"/>
<polyline points="650.6,205.6 658.3,203.4 677.0,202.0 680.3,198.8"/>
<polyline points="652.8,218.6 670.4,216.4 675.9,215.3 677.0,223.0"/>
<polyline points="670.4,216.4 671.5,227.4"/>
</g>
<g fill="none" stroke="#555" stroke-width="0.9" stroke-linejoin="round">
<path d="M43.8,94.2 L48.3,97.8 L52.9,101.0 L57.5,102.9 L61.2,103.3 L64.0,105.2 L65.0,108.5 L65.6,109.5 L66.5,104.0 L67.6,98.8 L67.2,94.2 L68.1,91.4 L100.0,100.9 L131.2,107.3 L142.2,110.1 L150.0,111.9 L173.4,115.6 L194.0,120.5 L238.0,126.7 L276.5,130.6 L300.0,131.7 L355.0,133.3 L378.1,133.3 L378.8,127.3 L381.9,127.3 L383.6,137.2 L388.7,139.3 L394.4,141.5 L400.2,140.0 L405.9,140.8 L410.2,145.0 L413.0,143.6 L416.0,145.0 L420.2,148.6 L426.0,145.8 L430.2,147.2 L434.5,148.6 L442.4,148.6 L436.0,152.0 L429.8,159.2 L424.0,164.0 L418.8,169.1 L414.4,172.4 L417.0,171.5 L422.0,169.5 L428.7,167.0 L431.0,166.0 L432.3,167.5 L431.0,171.0 L433.3,173.0 L438.8,170.6 L446.1,167.4 L451.6,163.8 L455.3,160.1 L459.0,157.3 L463.5,156.0 L466.7,156.9 L461.7,158.3 L459.0,161.9 L457.6,166.0 L459.9,164.7 L463.5,165.6 L468.1,168.3 L472.7,171.1 L476.4,172.0 L480.8,169.6 L485.2,168.5 L490.0,167.0 L494.0,165.2 L497.3,164.1 L501.7,167.4 L507.2,168.5 L509.4,170.7 L510.5,174.0 L516.0,175.1 L513.0,177.0 L509.0,178.3 L504.5,177.6 L499.6,178.3 L493.0,177.4 L488.0,179.1 L483.0,180.5 L479.0,183.0 L476.0,187.0 L472.5,193.0 L469.5,198.5 L466.5,203.5 L464.0,207.5 L465.0,208.0 L467.5,204.5 L470.5,199.0 L473.5,193.0 L476.5,188.0 L479.5,184.5 L481.0,184.0 L478.5,189.0 L476.0,194.0 L473.5,200.0 L472.0,206.4 L471.3,212.2 L470.8,219.5 L470.7,227.8 L471.5,236.0 L472.3,242.7 L474.0,249.3 L478.1,254.2 L482.2,252.6 L486.4,247.6 L488.0,241.0 L487.2,232.7 L485.5,224.5 L484.7,216.2 L485.3,210.0 L486.0,204.0 L487.9,196.2 L490.5,193.6 L493.0,191.0 L494.3,187.0 L497.3,185.0 L499.5,186.5 L500.2,183.5 L499.5,182.3 L502.5,180.3 L505.4,179.5 L511.1,179.9 L517.7,183.2 L521.0,188.2 L521.9,193.1 L521.0,201.4 L520.2,208.0 L518.6,211.3 L517.7,213.8 L520.2,214.6 L522.7,211.3 L526.0,208.8 L530.1,207.2 L532.6,209.6 L534.3,214.6 L535.9,221.2 L537.6,226.1 L536.7,231.1 L535.1,236.0 L534.3,241.0 L535.2,246.0 L534.7,247.5 L533.6,250.5 L538.0,249.8 L542.4,248.4 L547.0,248.0 L551.5,246.5 L555.0,244.5 L560.0,241.5 L566.0,237.8 L572.0,233.5 L576.5,229.0 L579.2,222.0 L579.0,216.5 L579.0,213.0 L579.5,211.2 L587.8,209.5 L596.0,208.7 L602.6,207.9 L607.6,204.6 L610.9,199.6 L609.2,195.5 L610.9,190.5 L615.8,183.1 L620.0,176.5 L624.1,173.2 L632.3,170.7 L639.6,170.0 L650.0,167.4 L660.5,164.3 L662.7,159.0 L666.0,158.3 L670.4,146.2 L671.5,135.2 L674.8,124.2 L677.0,115.8 L679.2,116.5 L681.4,119.8 L688.0,114.3 L694.6,117.6 L696.8,128.6 L703.4,139.6 L707.8,144.0 L714.4,150.6 L712.2,156.1 L707.8,159.4 L703.4,166.0 L696.8,169.3 L692.4,172.6 L688.0,177.0 L682.5,183.6 L679.2,192.4 L678.1,196.8 L680.3,198.8 L682.0,205.0 L682.4,207.2 L684.4,210.2 L687.4,213.2 L690.5,214.2 L693.3,214.3 L694.6,213.2 L694.8,211.2 L693.5,209.0 L692.3,207.6 L693.4,207.4 L695.3,209.2 L696.4,212.3 L695.8,215.6 L693.5,216.9 L690.0,217.2 L686.5,218.2 L683.5,220.5 L680.4,220.8 L677.0,223.0 L673.6,226.0 L669.8,228.2 L671.5,229.4 L673.6,231.5 L671.4,233.2 L667.0,236.5 L661.5,239.2 L656.0,242.0 L653.2,242.6 L651.5,240.5 L650.6,242.8 L649.5,247.2 L650.6,251.6 L649.5,260.4 L647.5,266.7 L644.6,271.0 L641.7,270.0 L638.5,268.5 L636.8,269.5 L637.5,272.5 L640.2,275.0 L642.5,278.0 L643.6,281.0 L644.6,285.8 L643.9,290.2 L641.7,297.5 L640.2,303.4 L639.5,307.8 L637.5,310.5 L638.7,316.6 L641.0,320.5 L643.6,323.0 L646.9,328.5 L649.1,332.9 L648.0,336.2 L644.7,340.6 L641.4,343.9 L638.1,348.3 L634.8,353.8 L628.2,360.4 L623.8,364.5 L621.5,367.5 L617.8,371.6 L612.8,372.4 L609.5,375.7 L607.1,381.5 L604.6,386.4 L600.5,390.5 L597.2,394.7 L592.2,398.8 L588.1,402.9 L585.6,407.9 L583.9,412.8 L583.1,417.8 L582.3,422.7 L581.5,427.7 L582.3,432.7 L583.9,439.3 L585.6,445.9 L588.0,451.0 L590.5,455.0 L596.9,457.2 L602.2,466.5 L606.2,475.8 L610.2,485.1 L612.9,495.7 L614.2,506.4 L614.2,514.4 L610.2,522.3 L604.9,526.3 L599.6,525.0 L598.2,521.0 L594.3,514.4 L588.9,506.4 L581.0,498.4 L574.3,491.8 L570.3,485.1 L569.0,477.1 L567.7,469.1 L565.0,461.2 L559.7,457.2 L554.4,453.2 L549.0,449.2 L543.7,447.9 L537.1,451.9 L531.8,455.9 L526.4,455.9 L521.1,451.9 L514.5,447.9 L506.5,446.5 L498.5,447.9 L491.9,447.9 L489.2,449.2 L487.3,448.5 L486.8,444.0 L485.6,443.5 L485.0,448.5 L481.2,449.6 L478.8,449.9 L474.7,449.4 L470.5,449.9 L467.2,451.1 L463.9,453.4 L460.6,454.8 L459.8,456.0 L460.6,457.3 L462.3,457.3 L464.8,455.2 L467.2,454.0 L469.3,454.8 L468.9,457.3 L466.4,458.9 L463.9,460.6 L464.3,463.0 L466.4,465.5 L470.5,467.2 L473.0,469.2 L472.2,470.5 L469.7,471.3 L468.0,473.8 L467.2,472.1 L464.8,468.8 L461.5,468.0 L456.5,471.3 L448.3,472.5 L440.5,469.5 L432.5,464.8 L427.6,464.5 L418.8,463.5 L407.8,463.9 L401.2,462.8 L394.6,465.0 L385.8,469.4 L377.0,476.0 L366.0,482.6 L357.2,489.2 L350.6,498.0 L347.3,506.8 L348.4,517.8 L349.5,527.7 L344.0,525.5 L335.2,522.2 L326.4,520.0 L319.8,515.6 L315.4,504.6 L308.8,493.6 L304.0,487.0 L299.6,478.2 L293.0,467.2 L287.5,461.7 L276.5,459.5 L270.0,460.6 L264.4,469.4 L260.0,472.7 L251.2,467.2 L243.5,460.6 L240.2,454.0 L239.1,445.2 L236.9,440.8 L225.9,430.9 L220.4,425.4 L214.9,418.4 L192.9,418.8 L191.8,425.0 L179.7,423.6 L150.0,418.8 L101.2,390.2 L103.4,386.9 L68.2,383.2 L67.1,372.6 L63.8,366.0 L57.2,358.3 L52.8,350.6 L45.1,345.1 L37.4,341.8 L28.6,337.4 L27.5,322.0 L23.1,311.0 L20.9,300.0 L18.6,290.4 L17.4,284.0 L16.7,278.8 L16.0,274.3 L14.1,271.0 L12.2,267.3 L10.3,259.6 L8.4,252.5 L9.0,246.7 L9.6,237.7 L7.7,229.0 L8.8,223.0 L14.3,212.0 L16.5,202.1 L18.7,190.0 L24.2,176.8 L30.8,163.6 L37.4,146.0 L41.8,132.4 L42.9,115.2 L41.8,102.0Z"/><path d="M653.8,236.5 L656.0,234.3 L661.5,231.0 L667.0,228.8 L669.8,228.5 L669.8,229.9 L667.0,232.0 L661.5,234.8 L656.0,237.0 L653.5,237.6Z"/>
<path d="M683.6,220.6 L686.5,219.6 L689.2,220.3 L688.0,222.4 L685.0,222.6Z"/>
<path d="M692.6,220.2 L695.6,219.6 L696.8,221.0 L694.3,222.3 L692.8,221.6Z"/>
</g>
<g stroke="#555" stroke-width="0.7" fill="none">
<polyline points="432.0,463.9 444.1,483.7"/>
<polyline points="626.4,282.4 659.0,293.0"/>
<polyline points="636.0,308.7 650.2,312.0"/>
</g>
<g font-family="Liberation Sans, Arial, sans-serif" font-size="10.15" fill="#111" stroke="#111" stroke-width="0.25">
<text x="49.8" y="145.6">Portland</text>
<text x="49.8" y="169.7">Willamette Valley</text>
<text x="126.5" y="196.2">Boise</text>
<text x="43.2" y="289.6">Central Valley</text>
<text x="172.2" y="249">Salt Lake City</text>
<text x="263.5" y="277.6">Fort Collins</text>
<text x="358.3" y="295.2">Kansas City</text>
<text x="388.2" y="199.2">Twin Cities</text>
<text x="456.6" y="203.3">Green Bay</text>
<text x="549.3" y="208.8">Buffalo</text>
<text x="508.2" y="247.2">Toledo</text>
<text x="547.3" y="247.2">Cleveland</text>
<text x="506.1" y="294.5">Cincinnati</text>
<text x="623.8" y="260">Philadelphia</text>
<text x="660.5" y="298.6">Washington DC</text>
<text x="656.8" y="316">Richmond</text>
<text x="583.1" y="341.3">Raleigh/Durham</text>
<text x="490.4" y="366.9">Huntsville</text>
<text x="388" y="478">Houston</text>
<text x="426.5" y="496.6">Lafayette</text>
<text x="587.6" y="452.8">Jacksonville</text>
<text x="534.4" y="487.4">Tampa</text>
<text x="611.5" y="486">West Palm Beach</text>
</g>
<g font-family="Liberation Sans, Arial, sans-serif" fill="#1a1a1a" stroke="#1a1a1a" stroke-width="0.2">
<text x="712.4" y="334.1" font-size="11.5" textLength="30.7" lengthAdjust="spacingAndGlyphs">Score</text>
<rect x="712.2" y="335.9" width="31.1" height="1.1" fill="#444" stroke="none"/>
<rect x="735.6" y="345.40" width="14.6" height="9.4" fill="#dcdcdc" stroke="none"/>
<text x="717.6" y="353.40" font-size="10" text-anchor="middle">0-1</text>
<rect x="735.6" y="363.57" width="14.6" height="9.4" fill="#dcefc6" stroke="none"/>
<text x="717.6" y="371.57" font-size="10" text-anchor="middle">2</text>
<rect x="735.6" y="381.74" width="14.6" height="9.4" fill="#cbe39a" stroke="none"/>
<text x="717.6" y="389.74" font-size="10" text-anchor="middle">3</text>
<rect x="735.6" y="399.91" width="14.6" height="9.4" fill="#a3d59f" stroke="none"/>
<text x="717.6" y="407.91" font-size="10" text-anchor="middle">4</text>
<rect x="735.6" y="418.08" width="14.6" height="9.4" fill="#69b895" stroke="none"/>
<text x="717.6" y="426.08" font-size="10" text-anchor="middle">5</text>
<rect x="735.6" y="436.25" width="14.6" height="9.4" fill="#379682" stroke="none"/>
<text x="717.6" y="444.25" font-size="10" text-anchor="middle">6</text>
<rect x="735.6" y="454.42" width="14.6" height="9.4" fill="#13706f" stroke="none"/>
<text x="717.6" y="462.42" font-size="10" text-anchor="middle">7</text>
<rect x="735.6" y="472.59" width="14.6" height="9.4" fill="#165b77" stroke="none"/>
<text x="717.6" y="480.59" font-size="10" text-anchor="middle">8</text>
<rect x="735.6" y="490.76" width="14.6" height="9.4" fill="#0f3b5b" stroke="none"/>
<text x="717.6" y="498.76" font-size="10" text-anchor="middle">9</text>
<rect x="735.6" y="508.93" width="14.6" height="9.4" fill="#0a2139" stroke="none"/>
<text x="717.6" y="516.93" font-size="10" text-anchor="middle">10</text>
</g>
</svg></body></html>
